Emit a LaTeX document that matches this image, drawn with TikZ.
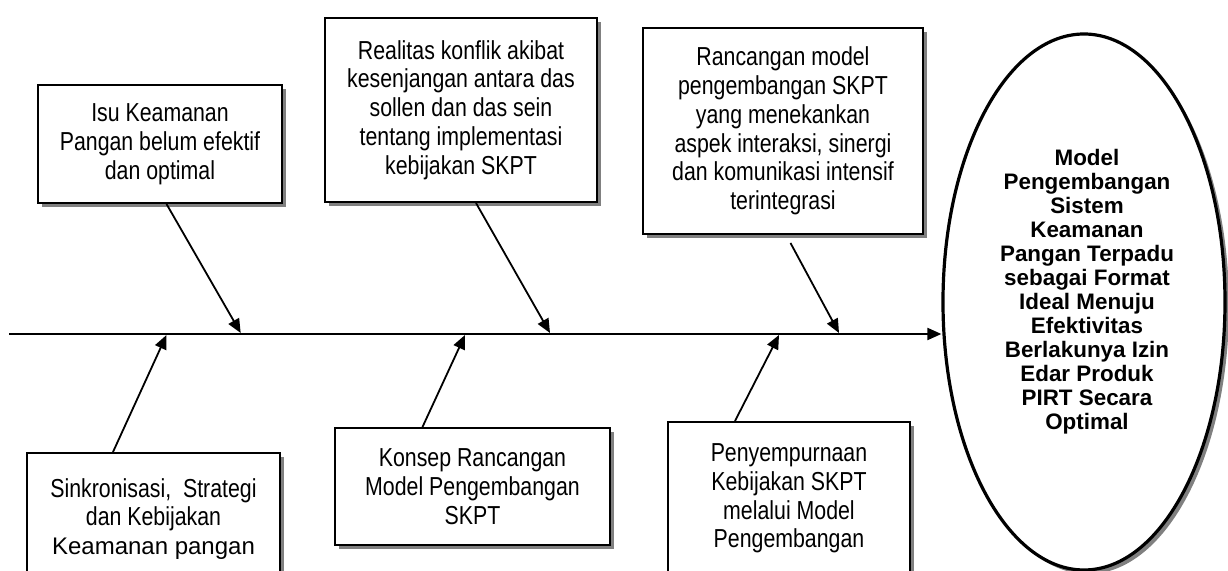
\documentclass[tikz,border=0pt]{standalone}
\usepackage{fontspec}
\newfontfamily\causefont{Liberation Sans}[FakeStretch=0.82]
\newfontfamily\plainfont{Liberation Sans}
\usetikzlibrary{arrows.meta,shapes.geometric,shadows}

\begin{document}
\begin{tikzpicture}[x=0.5pt, y=-0.5pt,
    cause/.style={draw, line width=1pt, fill=white, align=center, inner sep=2pt,
      font=\causefont\fontsize{13}{14.4}\selectfont,
      drop shadow={shadow xshift=2pt, shadow yshift=-2pt, fill=black!50, opacity=1}},
    goal/.style={draw, ellipse, line width=1.6pt, fill=white, minimum width=141pt, minimum height=268pt,
      drop shadow={shadow xshift=2pt, shadow yshift=-2pt, fill=black!50, opacity=1}},
    bone/.style={line width=0.9pt, -{Triangle[length=7pt, width=6pt]}}]
    \useasboundingbox (0,0) rectangle (1228,571);

            % Causes (top)
            \node[cause, minimum width=122pt, minimum height=59pt] (isu) at (160,144)
              {Isu Keamanan\\Pangan belum efektif\\dan optimal};
            \node[cause, minimum width=136pt, minimum height=92pt] (realitas) at (461,110)
              {Realitas konflik akibat\\kesenjangan antara das\\sollen dan das sein\\tentang implementasi\\kebijakan SKPT};
            \node[cause, minimum width=140pt, minimum height=103pt] (rancangan) at (783,131)
              {Rancangan model\\pengembangan SKPT\\yang menekankan\\aspek interaksi, sinergi\\dan komunikasi intensif\\terintegrasi};

            % Causes (bottom)
            \node[cause, minimum width=126.5pt, minimum height=66pt] (sinkron) at (153.5,519)
              {Sinkronisasi,\ \ Strategi\\dan Kebijakan\\{\plainfont\fontsize{12}{14.4}\selectfont Keamanan pangan}};
            \node[cause, minimum width=137.5pt, minimum height=58.5pt] (konsep) at (472.5,486.5)
              {Konsep Rancangan\\Model Pengembangan\\SKPT};
            \node[cause, minimum width=121pt, minimum height=76.5pt] (penyemp) at (789,498.5)
              {Penyempurnaan\\Kebijakan SKPT\\melalui Model\\Pengembangan};

            % Effect
            \node[goal] (goal) at (1084,302) {};
            \node[font=\plainfont\bfseries\fontsize{11.2}{12}\selectfont, align=center] (goaltext) at (1087,292)
              {Model\\Pengembangan\\Sistem\\Keamanan\\Pangan Terpadu\\sebagai Format\\Ideal Menuju\\Efektivitas\\Berlakunya Izin\\Edar Produk\\PIRT Secara\\Optimal};

            % Spine
            \coordinate (tail) at (9,334);
            \coordinate (j1) at (240.7,333);
            \coordinate (j2) at (550,333);
            \coordinate (j3) at (839,333);
            \coordinate (j4) at (166.5,335);
            \coordinate (j5) at (465,335);
            \coordinate (j6) at (779,335);

            % Bones
            \draw[bone, line width=1pt] (tail) -- (tail -| goal.west);
            \draw[bone] ([xshift=3.25pt]isu.south) -- (j1);
            \draw[bone] ([xshift=7.5pt]realitas.south) -- (j2);
            \draw[bone] ([xshift=3.75pt, yshift=-4pt]rancangan.south) -- (j3);
            \draw[bone] ([xshift=-20.25pt]sinkron.north) -- (j4);
            \draw[bone] ([xshift=-25pt]konsep.north) -- (j5);
            \draw[bone] ([xshift=-27pt]penyemp.north) -- (j6);
        \end{tikzpicture}
\end{document}
